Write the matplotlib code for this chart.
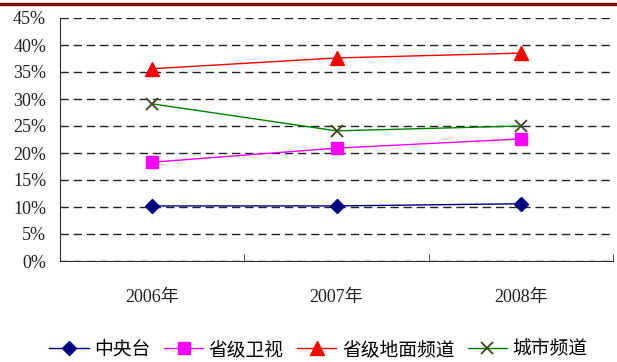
import numpy as np
import matplotlib.pyplot as plt
from matplotlib.lines import Line2D
from matplotlib.ticker import FixedLocator, PercentFormatter

plt.rcParams['font.family'] = ['Liberation Serif', 'Noto Sans CJK SC', 'DejaVu Sans']

years = ['2006年', '2007年', '2008年']
cctv = [10.2, 10.2, 10.6]
prov_sat = [18.3, 20.9, 22.6]
prov_ground = [35.6, 37.6, 38.5]
city = [29.1, 24.1, 25.0]

series = [
    ('中央台', cctv, '#000080', '#000080', 'D', 7.5),
    ('省级卫视', prov_sat, '#ff00ff', '#ff00ff', 's', 8.5),
    ('省级地面频道', prov_ground, '#ff0000', '#ff0000', '^', 9.5),
    ('城市频道', city, '#008000', '#404020', 'x', 8.5),
]

fig = plt.figure(figsize=(6.17, 3.62), dpi=100)
ax = fig.add_axes([60 / 617, 1 - 261 / 362, 553 / 617, 243 / 362])

x = np.arange(len(years))
handles = []
for name, vals, lc, mc, mk, ms in series:
    kw = dict(markerfacecolor=mc, markeredgecolor=mc)
    if mk == 'x':
        kw['markeredgewidth'] = 1.3
    ax.plot(x, vals, color=lc, linewidth=1, marker=mk, markersize=ms,
            zorder=3, **kw)
    handles.append(Line2D([], [], color=lc, linewidth=1, marker=mk,
                          markersize=ms, label=name, **kw))

ax.set_xlim(-0.5, 2.5)
ax.set_ylim(0, 45)
ax.yaxis.set_major_locator(FixedLocator(np.arange(0, 46, 5)))
ax.yaxis.set_major_formatter(PercentFormatter(decimals=0))
ax.yaxis.grid(True, linestyle=(0, (6, 3.5)), color='#222222', linewidth=1)
ax.set_axisbelow(True)

ax.set_xticks(x)
ax.set_xticklabels(years)
ax.xaxis.set_minor_locator(FixedLocator([0.5, 1.5, 2.5]))
ax.tick_params(axis='x', which='major', length=0, pad=20, labelsize=13,
               labelcolor='#222222')
ax.tick_params(axis='x', which='minor', direction='in', length=5, color='#333333')
ax.tick_params(axis='y', length=0, pad=10, labelsize=13, labelcolor='#222222')

for side in ('top', 'right'):
    ax.spines[side].set_visible(False)
for side in ('left', 'bottom'):
    ax.spines[side].set_color('#333333')

fig.legend(handles=handles, loc='center',
           bbox_to_anchor=(0.5 + 10 / 617, 1 - 350 / 362),
           ncol=4, frameon=False, fontsize=13.5, handlelength=2.1,
           columnspacing=0.7, handletextpad=0.3)

# dark red rule along the top edge
fig.add_artist(Line2D([0, 1], [1 - 3.5 / 362] * 2, color='#7b1113', linewidth=2.5))

fig.savefig('out.png', dpi=100)
